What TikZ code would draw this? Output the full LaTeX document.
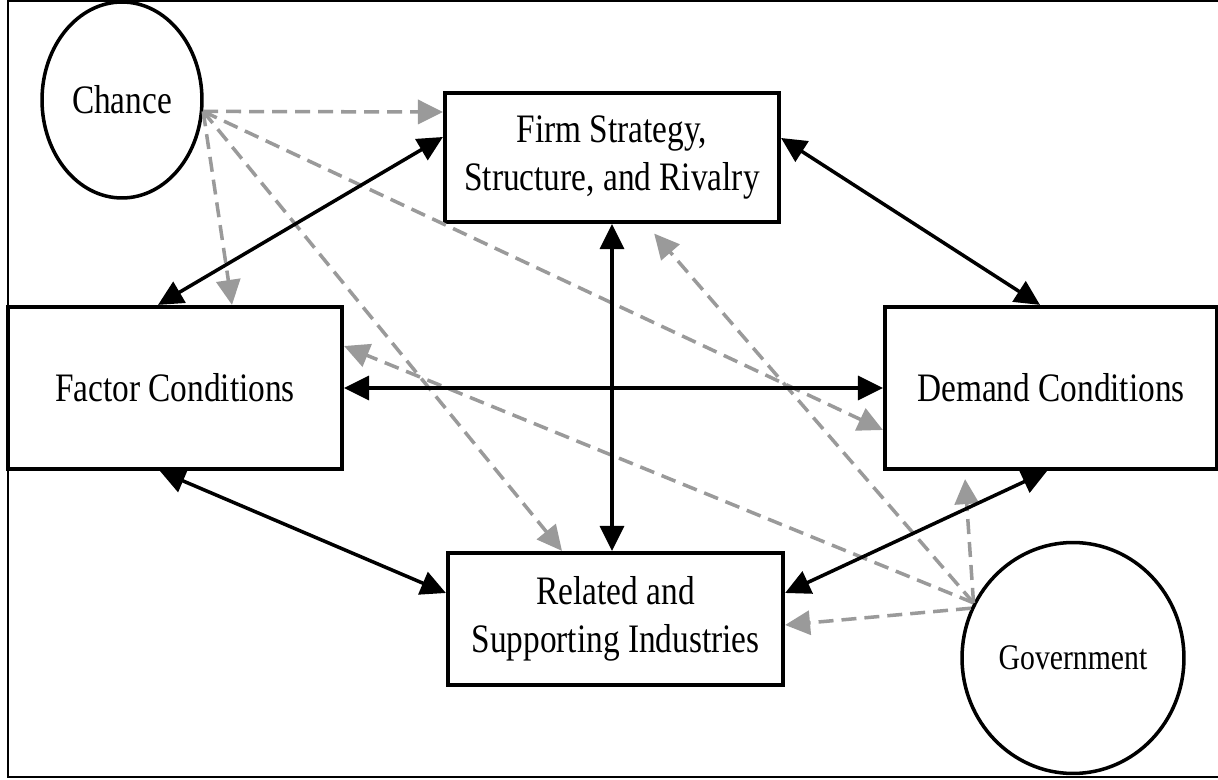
\documentclass[tikz,border=0pt]{standalone}
\usepackage{fontspec}
\setmainfont[FakeStretch=0.825]{Liberation Serif}
\usepackage{tikz}
\usetikzlibrary{shapes, arrows.meta, positioning}
\definecolor{dashgray}{HTML}{9A9A9A}
\tikzset{%
>={Triangle[width=4.8mm,length=5mm]},
% Specifications for style of nodes:
base/.style = {draw, line width=2.4pt, text centered, inner sep=0pt},
block/.style = {base, rectangle, minimum width=6.68cm},
force/.style = {base, ellipse, line width=2pt},
% Specifications for style of links:
link/.style = {<->, line width=2pt},
influence/.style = {->, draw=dashgray, line width=2pt, dash pattern=on 3mm off 1.6mm},
}

\begin{document}
\begin{tikzpicture}[
            x=0.02cm, y=-0.02cm,
            every node/.style={font=\fontsize{23}{27.3}\selectfont},
            align=center
        ]
        \useasboundingbox (0,0) rectangle (1218,780);
        % outer frame (right side cut off)
        \draw [line width=1.4pt] (1218,1) -- (8,1) -- (8,777) -- (1218,777);

        % Specification of nodes (position, etc.)
        \node (firm) [block, minimum height=2.58cm] at (612,157.5) {Firm Strategy,\\Structure, and Rivalry};
        \node (factor) [block, minimum height=3.24cm] at (175,388) {Factor Conditions};
        \node (demand) [block, minimum width=6.64cm, minimum height=3.24cm] at (1051,388) {Demand Conditions};
        \node (related) [block, minimum width=6.7cm, minimum height=2.64cm] at (615.5,619) {Related and\\Supporting Industries};
        \node (chance) [force, minimum width=3.2cm, minimum height=3.92cm] at (122,100) {Chance};
        \node (gov) [force, minimum width=4.44cm, minimum height=4.62cm, font=\fontsize{20.5}{24}\selectfont] at (1073,658) {Government};

        % chance and government
        \draw [influence] (chance.-8) -- ([yshift=9.1mm]firm.west);
        \draw [influence] (chance.-8) -- ([xshift=11.4mm]factor.north);
        \draw [influence] (chance.-8) -- ([xshift=-10.7mm]related.north);
        \draw [influence] (chance.-8) -- ([yshift=-8.4mm]demand.west);
        \draw [influence, shorten >=1.6mm] (gov.151) -- ([xshift=-17.3mm]demand.south);
        \draw [influence] (gov.154) -- ([yshift=-1.2mm]related.east);
        \draw [influence] (gov.151) -- ([yshift=8.4mm]factor.east);
        \draw [influence, shorten >=2.5mm] (gov.151) -- ([xshift=6.8mm]firm.south);

        % diamond links
        \draw [link] ([xshift=-3.4mm]factor.north) -- ([yshift=4.1mm]firm.west);
        \draw [link] ([yshift=3.9mm]firm.east) -- ([xshift=-2.2mm]demand.north);
        \draw [link] (firm.south) -- (firm.south |- related.north);
        \draw [link] (factor.east) -- (demand.west);
        \draw [link] ([xshift=-3mm]factor.south) -- ([yshift=5.2mm]related.west);
        \draw [link] ([xshift=-0.8mm]demand.south) -- ([yshift=5.2mm]related.east);
    \end{tikzpicture}
\end{document}
